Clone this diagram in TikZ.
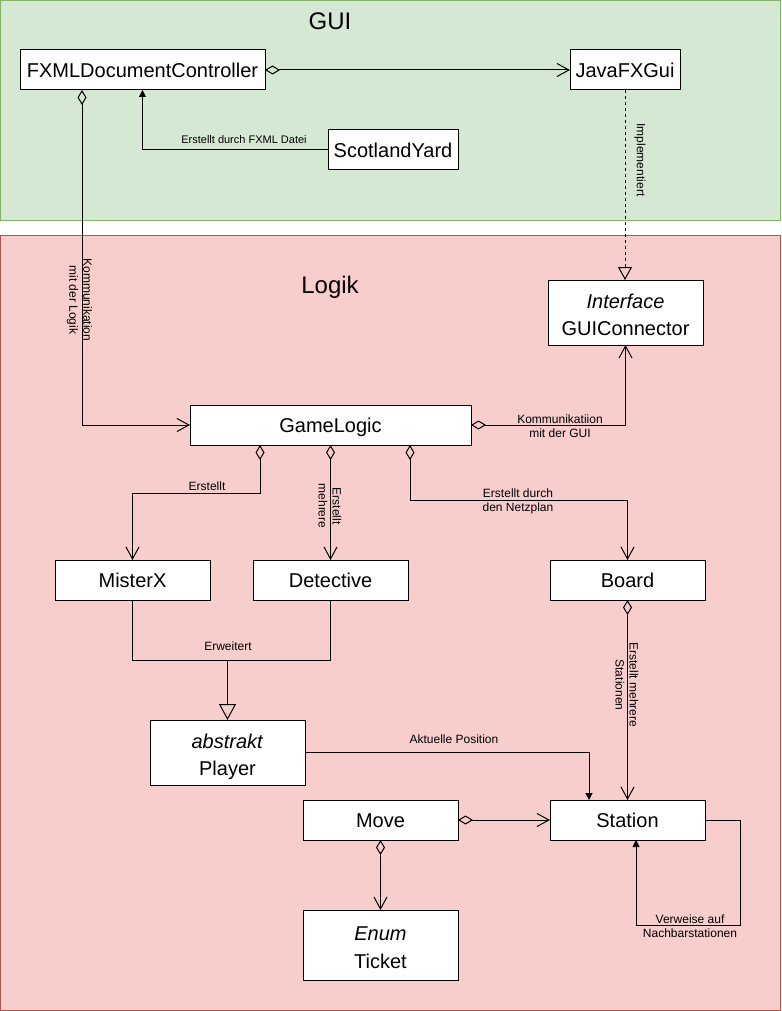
\documentclass[tikz,border=0pt]{standalone}
\usepackage{fontspec}
\setmainfont{Liberation Sans}
\usepackage{tikz}
\usetikzlibrary{arrows.meta, positioning}
\definecolor{guicolor}{RGB}{213,232,212}
\definecolor{guiborder}{RGB}{130,179,102}
\definecolor{logikcolor}{RGB}{248,206,204}
\definecolor{logikborder}{RGB}{184,84,80}
% Stereotyp kursiv ueber dem Klassennamen
\newcommand{\stereotyp}[2]{\rule{0pt}{23.6pt}\textit{#1}\\#2\rule[-5pt]{0pt}{5pt}}

\begin{document}
\begin{tikzpicture}[
    x=1pt, y=-1pt,
    line width=1pt,
    cls/.style={draw, fill=white, minimum width=155pt, minimum height=40pt, outer sep=0pt, inner sep=2pt, align=center, font=\fontsize{20}{27.5}\selectfont},
    oneline/.style={text height=14.6pt, text depth=-4.2pt},
    pane/.style={draw, line width=1pt, anchor=north west, outer sep=0pt, inner sep=0pt},
    title/.style={font=\fontsize{24}{28}\selectfont},
    lbl/.style={font=\fontsize{12}{14}\selectfont, align=center, inner sep=0pt},
    agg/.style={{Diamond[open, length=15pt, width=9pt]}-{Straight Barb[length=12pt, width=13pt]}},
    assoc/.style={-{Triangle[length=7pt, width=7pt]}},
    inherit/.style={-{Triangle[open, length=16pt, width=17pt]}},
]
    \useasboundingbox (0,0) rectangle (781,1011);

    % Bereiche
    \node[pane, fill=guicolor, draw=guiborder, minimum width=780pt, minimum height=220pt] (guipane) at (0.5,0.5) {};
    \node[pane, fill=logikcolor, draw=logikborder, minimum width=780pt, minimum height=775pt] (logikpane) at (0.5,235.5) {};
    \node[title] (guititle) at (330,21) {GUI};
    \node[title] (logiktitle) at (330,287) {Logik};

    % GUI
    \node[cls, oneline, minimum width=245pt] (fxml) at (142.5,70) {FXMLDocumentController};
    \node[cls, oneline, minimum width=110pt, right=305pt of fxml] (javafx) {JavaFXGui};
    \node[cls, oneline, minimum width=130pt] (scotland) at (393,150) {ScotlandYard};

    % Logik
    \node[cls, minimum height=65pt] (guiconn) at (625.5,312.5) {\stereotyp{Interface}{GUIConnector}};
    \node[cls, oneline, minimum width=281pt] (gamelogic) at (330.5,425) {GameLogic};
    \node[cls, oneline, below=115pt of gamelogic] (detective) {Detective};
    \node[cls, oneline, left=43pt of detective] (misterx) {MisterX};
    \node[cls, oneline, right=142pt of detective] (board) {Board};
    \node[cls, minimum height=65pt] (player) at (227.5,752.5) {\stereotyp{abstrakt}{Player}};
    \node[cls, oneline, below=200pt of board] (station) {Station};
    \node[cls, oneline, left=92pt of station] (move) {Move};
    \node[cls, minimum height=70pt, below=70pt of move] (ticket) {\stereotyp{Enum}{Ticket}};
    \coordinate[above=60pt of player.north] (merge);

    % Verbindungen
    \draw[agg] (fxml.east) -- (javafx.west);
    \draw[assoc] (scotland.west) -| (fxml.south);
    \draw[agg] ([xshift=-60.5pt]fxml.south) |- (gamelogic.west);
    \draw[dashed, -{Triangle[open, length=13pt, width=14pt]}] (javafx.south) -- (javafx.south |- guiconn.north);
    \draw[agg] (gamelogic.east) -| (guiconn.south);
    \draw[agg] ([xshift=-70.5pt]gamelogic.south) -- ++(0,48) -| (misterx.north);
    \draw[agg] (gamelogic.south) -- (detective.north);
    \draw[agg] ([xshift=79.5pt]gamelogic.south) -- ++(0,55) -| (board.north);
    \draw (detective.south) |- (merge);
    \draw[inherit] (misterx.south) |- (merge) -- (player.north);
    \draw[agg] (board.south) -- (station.north);
    \draw[assoc] (player.east) -| ([xshift=-38.5pt]station.north);
    \draw[agg] (move.east) -- (station.west);
    \draw[agg] (move.south) -- (ticket.north);
    \draw[assoc] (station.east) -- ++(35,0) -- ++(0,105) -| ([xshift=8.5pt]station.south);

    % Beschriftungen
    \node[lbl, font=\fontsize{11}{13}\selectfont] (lblfxml) at (244,140) {Erstellt durch FXML Datei};
    \node[lbl, rotate=-90] (lbllogik) at (79.5,300) {Kommunikation\\mit der Logik};
    \node[lbl, rotate=-90] (lblimpl) at (640,160) {Implementiert};
    \node[lbl] (lblgui) at (560,426) {Kommunikatiion\\mit der GUI};
    \node[lbl] (lblmisterx) at (207,486) {Erstellt};
    \node[lbl, rotate=-90] (lbldetective) at (330,506) {Erstellt\\mehrere};
    \node[lbl] (lblboard) at (518,501) {Erstellt durch\\den Netzplan};
    \node[lbl] (lblerw) at (228,646) {Erweitert};
    \node[lbl, rotate=-90] (lblstationen) at (627,685) {Erstellt mehrere\\Stationen};
    \node[lbl] (lblpos) at (454,739) {Aktuelle Position};
    \node[lbl] (lblnachbar) at (690,926) {Verweise auf\\Nachbarstationen};
\end{tikzpicture}
\end{document}
